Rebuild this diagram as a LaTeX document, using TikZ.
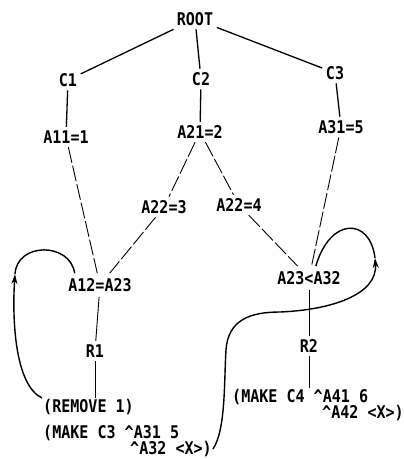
\documentclass[tikz,border=0pt]{standalone}
\usepackage{fontspec}
\newfontfamily\lblfont{DejaVu Sans Mono}[FakeStretch=0.86]
\usetikzlibrary{arrows.meta}
\begin{document}
\begin{tikzpicture}[x=1pt,y=-1pt,
  lbl/.style={font=\lblfont\bfseries\fontsize{17.5}{18}\selectfont, inner sep=3.5pt},
  txt/.style={lbl, anchor=west, inner sep=1pt},
  solidedge/.style={line width=1.3pt},
  thinedge/.style={line width=0.9pt, dash pattern=on 16pt off 3pt},
  loopedge/.style={line width=1.4pt},
  tip/.style={-{Stealth[length=10pt,width=6pt]}}
]
\useasboundingbox (0,0) rectangle (404,459);
\node[lbl] (root) at (195,19) {ROOT};
\node[lbl] (c1) at (68,80) {C1};
\node[lbl] (c2) at (201,79) {C2};
\node[lbl] (c3) at (335,73) {C3};
\node[lbl] (a11) at (66,137) {A11=1};
\node[lbl] (a21) at (200,132) {A21=2};
\node[lbl] (a31) at (341,127) {A31=5};
\node[lbl] (a22a) at (164,207) {A22=3};
\node[lbl] (a22b) at (239,205) {A22=4};
\node[lbl, inner sep=5pt] (a12) at (100,285) {A12=A23};
\node[lbl, inner sep=5pt] (a23) at (309,278) {A23<A32};
\node[lbl] (r1) at (95,351) {R1};
\node[lbl] (r2) at (309,346) {R2};
\node[txt] (rem) at (42,407) {(REMOVE 1)};
\node[txt] (mk3) at (42,433) {(MAKE C3 \textasciicircum A31 5};
\node[txt] (mk3b) at (129,449) {\textasciicircum A32 <X>)};
\node[txt] (mk4) at (231,397) {(MAKE C4 \textasciicircum A41 6};
\node[txt] (mk4b) at (321,413) {\textasciicircum A42 <X>)};
\coordinate (la) at (15,274);
\coordinate (ra) at (375,258);

\draw[solidedge] (root) -- (c1);
\draw[solidedge] (root) -- (c2);
\draw[solidedge] (root) -- (c3);
\draw[solidedge] (c1) -- (a11);
\draw[solidedge] (c2) -- (a21);
\draw[solidedge] (c3) -- (a31);
\draw[thinedge] (a11) -- (a12);
\draw[thinedge] (a21) -- (a22a);
\draw[thinedge] (a21) -- (a22b);
\draw[thinedge] (a22a) -- (a12);
\draw[thinedge] (a22b) -- (a23);
\draw[thinedge] (a31) -- (a23);
\draw[line width=0.9pt] (a12) -- (r1);
\draw[line width=0.9pt] (a23) -- (r2);
\draw[line width=0.9pt] (r1.south) -- (r1.south |- rem.north);
\draw[line width=0.9pt] (r2.south) -- (r2.south |- mk4.north);

\draw[loopedge, tip] (rem.north west) .. controls (15,385) and (12,320) .. (la);
\draw[loopedge] (la) .. controls (17,242) and (70,242) .. (a12.155);
\draw[loopedge, tip] (mk3b.east) .. controls (226,430) and (224,380) .. (226,350)
   .. controls (228,320) and (250,312) .. (280,312)
   .. controls (330,310) and (378,295) .. (ra);
\draw[loopedge] (a23.60) .. controls (330,217) and (370,217) .. (ra);
\end{tikzpicture}
\end{document}
